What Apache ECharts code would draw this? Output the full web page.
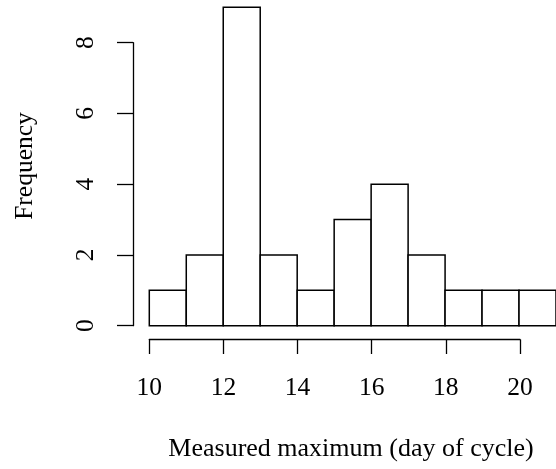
<!DOCTYPE html>
<html>
<head>
<meta charset="utf-8">
<script src="https://cdn.jsdelivr.net/npm/echarts@6/dist/echarts.min.js"></script>
<style>
  html, body { margin: 0; padding: 0; background: #ffffff; }
  #chart { width: 556px; height: 469px; }
</style>
</head>
<body>
<div id="chart"></div>
<script>
// Histogram of measured maximum (day of cycle)
const binEdges = [10, 11, 12, 13, 14, 15, 16, 17, 18, 19, 20, 21];
const counts = [1, 2, 9, 2, 1, 3, 4, 2, 1, 1, 1];
const xTicks = [10, 12, 14, 16, 18, 20];
const yTicks = [0, 2, 4, 6, 8];
const xTitle = 'Measured maximum (day of cycle)';
const yTitle = 'Frequency';

const FONT = '"Liberation Serif", "DejaVu Serif", serif';
const FS = 25.5;

const barData = counts.map((c, i) => [binEdges[i], binEdges[i + 1], c]);

const chart = echarts.init(document.getElementById('chart'), null, { renderer: 'canvas' });

chart.setOption({
  backgroundColor: '#ffffff',
  animation: false,
  grid: [
    // plotting area for the bars
    { left: 149.3, top: 7.3, width: 407.7, height: 318.4 },
    // detached y axis
    { left: 133, top: 42.7, width: 10, height: 283 },
    // detached x axis
    { left: 149.3, top: 338.5, width: 370.7, height: 1 }
  ],
  xAxis: [
    { gridIndex: 0, type: 'value', min: binEdges[0], max: binEdges[binEdges.length - 1], show: false },
    { gridIndex: 1, type: 'value', min: 0, max: 1, show: false },
    {
      gridIndex: 2, type: 'value', position: 'bottom',
      min: xTicks[0], max: xTicks[xTicks.length - 1], interval: 2,
      axisLine: { show: true, lineStyle: { color: '#000', width: 1.3 } },
      axisTick: { show: true, inside: false, length: 14.5, lineStyle: { color: '#000', width: 1.3 } },
      axisLabel: { show: true, color: '#000', fontFamily: FONT, fontSize: FS, margin: 36 },
      splitLine: { show: false }
    }
  ],
  yAxis: [
    { gridIndex: 0, type: 'value', min: 0, max: 9, show: false },
    {
      gridIndex: 1, type: 'value', position: 'left',
      min: yTicks[0], max: yTicks[yTicks.length - 1], interval: 2,
      axisLine: { show: true, lineStyle: { color: '#000', width: 1.3 } },
      axisTick: { show: true, inside: false, length: 16, lineStyle: { color: '#000', width: 1.3 } },
      axisLabel: { show: true, color: '#000', fontFamily: FONT, fontSize: FS, rotate: 90, margin: 34 },
      splitLine: { show: false }
    },
    { gridIndex: 2, type: 'value', min: 0, max: 1, show: false }
  ],
  series: [
    {
      type: 'custom',
      xAxisIndex: 0,
      yAxisIndex: 0,
      data: barData,
      encode: { x: [0, 1], y: 2 },
      renderItem: function (params, api) {
        const p0 = api.coord([api.value(0), api.value(2)]);
        const p1 = api.coord([api.value(1), 0]);
        return {
          type: 'rect',
          shape: { x: p0[0], y: p0[1], width: p1[0] - p0[0], height: p1[1] - p0[1] },
          style: { fill: '#ffffff', stroke: '#000000', lineWidth: 1.5 }
        };
      }
    }
  ],
  graphic: [
    {
      type: 'text', x: 25, y: 166, rotation: Math.PI / 2,
      style: { text: yTitle, fontFamily: FONT, fontSize: FS, fill: '#000', align: 'center', verticalAlign: 'middle' }
    },
    {
      type: 'text', x: 351, y: 449,
      style: { text: xTitle, fontFamily: FONT, fontSize: 26, fill: '#000', align: 'center', verticalAlign: 'middle' }
    }
  ]
});
</script>
</body>
</html>
